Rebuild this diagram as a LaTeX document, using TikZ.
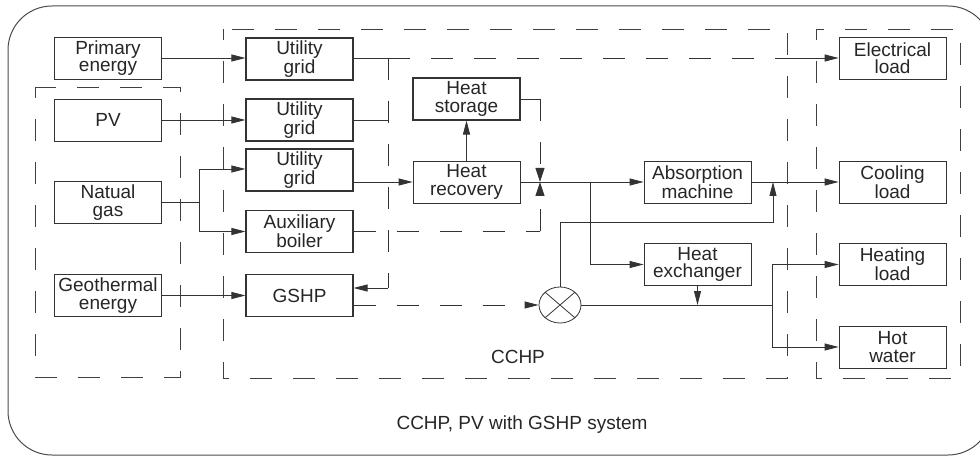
\documentclass[tikz,border=0pt]{standalone}
\usepackage{fontspec}
\setmainfont{Liberation Sans}
\usetikzlibrary{arrows.meta,shapes.geometric,calc}
\begin{document}
\begin{tikzpicture}[x=1pt,y=-1pt,
  box/.style={draw=black!80, line width=0.8pt, minimum width=107pt, minimum height=42pt, inner sep=0pt, align=center, text=black!85, font=\fontsize{19}{17.5}\selectfont},
  boldbox/.style={box, line width=1.1pt},
  conn/.style={draw=black!80, line width=0.8pt},
  arr/.style={conn, -{Triangle[length=14pt,width=7pt]}},
  warr/.style={-{Triangle[length=14pt,width=9pt]}},
  dsh/.style={conn, dash pattern=on 22pt off 21pt},
  grp/.style={draw=black!75, line width=0.9pt, dash pattern=on 22pt off 21pt, dash phase=11pt},
  lbl/.style={text=black!85, inner sep=0pt, font=\fontsize{19}{19}\selectfont},
]
\clip (0,0) rectangle (980,457);
\draw[black!70, line width=1pt, rounded corners=44pt] (8,6) rectangle (992,455);

% group boxes
\draw[grp] (35,87) rectangle (180,377);
\draw[grp] (223,29) rectangle (787,378);
\draw[grp] (816,29) rectangle (960,378);

% nodes
\node[box] (prim) at (108,58) {Primary\\energy};
\node[box] (pv) at (108,120) {PV};
\node[box] (gas) at (108,202.5) {Natual\\gas};
\node[box] (geo) at (108,295.5) {Geothermal\\energy};
\node[boldbox] (ug1) at (299.5,59) {Utility\\grid};
\node[boldbox] (ug2) at (299.5,120) {Utility\\grid};
\node[boldbox] (ug3) at (299.5,170) {Utility\\grid};
\node[boldbox] (aux) at (299.5,231.5) {Auxiliary\\boiler};
\node[boldbox] (gshp) at (299.5,295.5) {GSHP};
\node[boldbox] (hs) at (466.5,99) {Heat\\storage};
\node[box] (hr) at (466.5,182) {Heat\\recovery};
\node[box] (abs) at (697.5,182) {Absorption\\machine};
\node[box] (hx) at (697.5,264.5) {Heat\\exchanger};
\node[box] (el) at (892.5,58) {Electrical\\load};
\node[box] (cool) at (892.5,182) {Cooling\\load};
\node[box] (heat) at (892.5,264.5) {Heating\\load};
\node[box] (hot) at (892.5,347) {Hot\\water};
\node[draw=black!80, line width=0.8pt, ellipse, minimum width=42pt, minimum height=36pt, inner sep=0pt,
  path picture={\draw[black!80,line width=0.8pt] (path picture bounding box.north west) -- (path picture bounding box.south east) (path picture bounding box.south west) -- (path picture bounding box.north east);}] (mix) at (560,305) {};

\node[lbl] (lcchp) at (518,357) {CCHP};
\node[lbl] (ltitle) at (522,425) {CCHP, PV with GSHP system};

% coordinates
\coordinate (gj) at (199,202.5);
\coordinate (g1) at (199,169);
\coordinate (g2) at (199,231.5);
\coordinate (b0) at (388,58);
\coordinate (b1) at (388,288);
\coordinate (e1) at (783,58);
\coordinate (s1) at (540,99);
\coordinate (v) at (540,182);
\coordinate (a1) at (540,231.5);
\coordinate (br) at (590,182);
\coordinate (m2) at (773,222);
\coordinate (m3) at (773,182);
\coordinate (h0) at (772,305);

% sources
\draw[arr] (prim.east) -- (ug1.west |- prim.east);
\draw[arr] (pv) -- (ug2);
\draw[conn] (gas.east) -- (gj);
\draw[arr] (gj) -- (g1) -- (g1 -| ug3.west);
\draw[arr] (gj) -- (g2) -- (aux.west);
\draw[arr] (geo) -- (gshp);

% electricity
\draw[conn] (b0 -| ug1.east) -- (b0);
\draw[dsh] (b0) -- (e1);
\draw[arr] (e1) -- (el.west |- e1);
\draw[dsh] (b0) -- (b1);
\draw[arr] (b1) -- (b1 -| gshp.east);
\draw[conn] (ug2.east) -- (ug2.east -| b0);
\draw[conn] ($(ug3.east)+(0,-15)$) -- ($(ug3.east)+(0,-15)$ -| b0);
\draw[arr] ($(ug3.east)+(0,12)$) -- (hr.west);

% heat storage / boiler
\draw[arr] (hr.north) -- (hs.south);
\draw[conn] (hs.east) -- (s1);
\draw[dsh, warr] (s1) -- (v);
\draw[dsh] (aux.east) -- (a1);
\draw[dsh, warr] (a1) -- (v);

% heat distribution
\draw[arr] (hr.east) -- (abs.west);
\draw[arr] (br) |- (hx.west);
\draw[arr] (abs.east) -- (cool.west);
\draw[arr] (mix.north) |- (m2) -- (m3);
\draw[dsh, -{Triangle[length=14pt,width=7pt]}] (mix.west -| gshp.east) -- (mix.west);
\draw[conn] (mix.east) -- (h0);
\draw[arr] (hx.south) -- (hx.south |- h0);
\draw[arr] (h0) |- (heat.west);
\draw[arr] (h0) |- (hot.west);
\end{tikzpicture}
\end{document}
